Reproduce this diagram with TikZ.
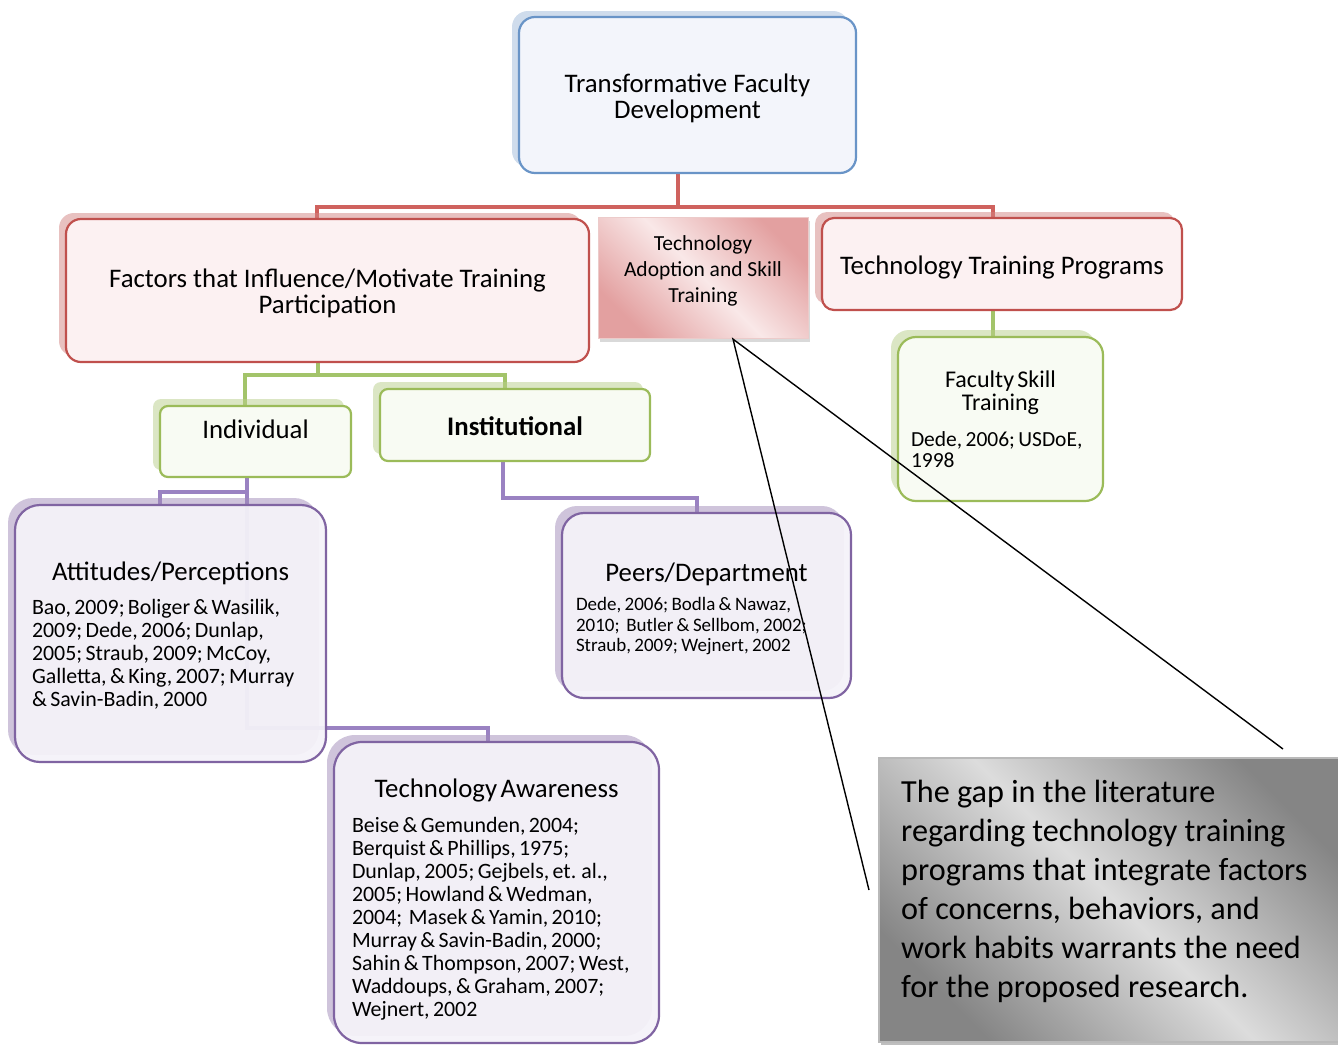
\documentclass[tikz,border=0pt]{standalone}
\usepackage{fontspec}
\setmainfont{Carlito}
\usetikzlibrary{shadows,calc}
\definecolor{bl}{HTML}{4F81BD}
\definecolor{blfill}{HTML}{F3F5FB}
\definecolor{rd}{HTML}{C0504D}
\definecolor{rdline}{HTML}{CF625E}
\definecolor{rdfill}{HTML}{FCF1F2}
\definecolor{gr}{HTML}{9BBB59}
\definecolor{grline}{HTML}{A3C46A}
\definecolor{grfill}{HTML}{F8FBF3}
\definecolor{pu}{HTML}{8064A2}
\definecolor{puline}{HTML}{9A82C2}
\definecolor{pufill}{HTML}{F5F3F9}
\definecolor{tadark}{HTML}{E3A0A0}
\definecolor{talight}{HTML}{F9E8E8}
\definecolor{gydark}{HTML}{858585}
\definecolor{gylight}{HTML}{DCDCDC}
\newcommand\ttlf{\fontsize{26.8}{26}\selectfont}
\newcommand\reff{\fontsize{21.9}{23}\selectfont}
\newcommand\smreff{\fontsize{19}{20.5}\selectfont}
\begin{document}
\begin{tikzpicture}[x=1pt,y=-1pt,
  base/.style={rectangle, line width=2.2pt, inner sep=0pt},
  bluebox/.style={base, draw=bl!85, fill=blfill,
    general shadow={shadow xshift=-7pt, shadow yshift=6pt, fill=bl!60, opacity=.45}},
  redbox/.style={base, draw=rd, fill=rdfill,
    general shadow={shadow xshift=-7pt, shadow yshift=6pt, fill=rd!70, opacity=.5}},
  greenbox/.style={base, draw=gr, fill=grfill,
    general shadow={shadow xshift=-7pt, shadow yshift=7pt, fill=gr!70, opacity=.5}},
  purplebox/.style={base, draw=pu, fill=pufill, fill opacity=.93,
    general shadow={shadow xshift=-7pt, shadow yshift=7pt, fill=pu!75, opacity=.5}},
  conn/.style={line width=4pt},
  rc/.style={conn, draw=rdline},
  gc/.style={conn, draw=grline},
  pc/.style={conn, draw=puline},
  callout/.style={draw=black, line width=1.4pt},
  boxlabel/.style={align=center, font=\ttlf},
  reftext/.style={inner sep=0pt}
]
\useasboundingbox (0,0) rectangle (1338,1047);
\fill[white] (0,0) rectangle (1338,1047);

% ---------- box positions (named) ----------
\path
  (687.5,95)    coordinate (ptfd)
  (327.5,290.5) coordinate (pfac)
  (703,277.5)   coordinate (pta)
  (1002,264)    coordinate (pttp)
  (1000.5,419)  coordinate (pfsk)
  (255.5,441.5) coordinate (pind)
  (515,425)     coordinate (pins)
  (170.5,633.5) coordinate (patt)
  (706.5,605.5) coordinate (ppeer)
  (496.5,892.5) coordinate (paw);

% invisible helper nodes for connectors
\node[base, minimum width=337pt, minimum height=156pt] (tfd) at (ptfd) {};
\node[base, minimum width=523pt, minimum height=143pt] (fac) at (pfac) {};
\node[base, minimum width=210pt, minimum height=121pt] (ta) at (pta) {};
\node[base, minimum width=360pt, minimum height=92pt] (ttp) at (pttp) {};
\node[base, minimum width=205pt, minimum height=164pt] (fsk) at (pfsk) {};
\node[base, minimum width=191pt, minimum height=71pt] (ind) at (pind) {};
\node[base, minimum width=270pt, minimum height=72pt] (ins) at (pins) {};
\node[base, minimum width=311pt, minimum height=257pt] (att) at (patt) {};
\node[base, minimum width=289pt, minimum height=185pt] (peer) at (ppeer) {};
\node[base, minimum width=325pt, minimum height=301pt] (aw) at (paw) {};

% ---------- connectors ----------
\draw[rc] ([xshift=-9.5pt]tfd.south) -- ++(0,33) -| ([xshift=-10.5pt]fac.north);
\draw[rc] ([xshift=-9.5pt]tfd.south) -- ++(0,33) -| ([xshift=-9pt]ttp.north);
\draw[gc] ([xshift=-9.5pt]fac.south) -- ++(0,12) -| ([xshift=-10.5pt]ind.north);
\draw[gc] ([xshift=-9.5pt]fac.south) -- ++(0,12) -| ([xshift=-10pt]ins.north);
\draw[gc] ([xshift=-9pt]ttp.south) -- ([xshift=-9pt]ttp.south |- fsk.north);
\draw[pc] ([xshift=-8.5pt]ind.south) -- ++(0,14) -| ([xshift=-10.5pt]att.north);
\draw[pc] ([xshift=-8.5pt]ind.south) -- ++(0,250) -| ([xshift=-8.5pt]aw.north);
\draw[pc] ([xshift=-12pt]ins.south) -- ++(0,36) -| ([xshift=-9.5pt]peer.north);

% ---------- boxes ----------
\node[bluebox, rounded corners=16pt, minimum width=337pt, minimum height=156pt,
  label={[boxlabel, yshift=-3pt]center:Transformative Faculty\\Development}]
  (tfdbox) at (ptfd) {};

\node[redbox, rounded corners=15pt, minimum width=523pt, minimum height=143pt,
  label={[boxlabel, yshift=-3pt]center:Factors that Influence/Motivate Training\\Participation}]
  (facbox) at (pfac) {};

\node[base, line width=0.8pt, draw=rd!30, shade, top color=tadark, bottom color=tadark, middle color=talight,
  shading angle=-45, minimum width=210pt, minimum height=121pt,
  drop shadow={shadow xshift=2pt, shadow yshift=-4pt, fill=black, opacity=.15},
  label={[align=center, font=\fontsize{21.5}{26}\selectfont, yshift=6.5pt]center:Technology\\Adoption and Skill\\Training}]
  (tabox) at (pta) {};

\node[redbox, rounded corners=12pt, minimum width=360pt, minimum height=92pt,
  label={[boxlabel, yshift=-3.5pt]center:Technology Training Programs}]
  (ttpbox) at (pttp) {};

\node[greenbox, rounded corners=18pt, minimum width=205pt, minimum height=164pt, text width=179pt]
  (fskbox) at (pfsk) {{\centering\fontsize{24}{23}\selectfont Faculty Skill\\Training\par}\vspace{15pt}%
  {\raggedright\fontsize{21.5}{21}\selectfont Dede, 2006; USDoE,\\1998\par}};

\node[greenbox, rounded corners=8pt, minimum width=191pt, minimum height=71pt,
  label={[font=\ttlf, yshift=12pt]center:Individual}] (indbox) at (pind) {};

\node[greenbox, rounded corners=8pt, minimum width=270pt, minimum height=72pt,
  label={[font=\ttlf\bfseries, yshift=-1.5pt]center:Institutional}]
  (insbox) at (pins) {};

\node[purplebox, rounded corners=25pt, minimum width=311pt, minimum height=257pt] (attbox) at (patt) {};
\node[reftext, text width=277pt] (atttext) at ([yshift=-2.5pt]attbox.center)
  {{\centering\ttlf Attitudes/Perceptions\par}\vspace{11pt}%
  {\raggedright\reff Bao, 2009; Boliger \& Wasilik,\\2009; Dede, 2006; Dunlap,\\2005; Straub, 2009; McCoy,\\Galletta, \& King, 2007; Murray\\\& Savin-Badin, 2000\par}};

\node[purplebox, rounded corners=22pt, minimum width=289pt, minimum height=185pt] (peerbox) at (ppeer) {};
\node[reftext, text width=261pt] (peertext) at ([yshift=-3.5pt]peerbox.center)
  {{\centering\ttlf Peers/Department\par}\vspace{9pt}%
  {\raggedright\smreff Dede, 2006; Bodla \& Nawaz,\\2010;\ \ Butler \& Sellbom, 2002;\\Straub, 2009; Wejnert, 2002\par}};

\node[purplebox, rounded corners=28pt, minimum width=325pt, minimum height=301pt] (awbox) at (paw) {};
\node[reftext, text width=289pt] (awtext) at ([yshift=-7.5pt]awbox.center)
  {{\centering\ttlf Technology Awareness\par}\vspace{12pt}%
  {\raggedright\reff Beise \& Gemunden, 2004;\\Berquist \& Phillips, 1975;\\Dunlap, 2005; Gejbels, et. al.,\\2005; Howland \& Wedman,\\2004;\ \ Masek \& Yamin, 2010;\\Murray \& Savin-Badin, 2000;\\Sahin \& Thompson, 2007; West,\\Waddoups, \& Graham, 2007;\\Wejnert, 2002\par}};

% ---------- gap box ----------
\node[base, line width=1.5pt, draw=gray!55, shade, top color=gydark, bottom color=gydark, middle color=gylight,
  shading angle=-45, minimum width=471pt, minimum height=284pt,
  drop shadow={shadow xshift=2pt, shadow yshift=-3pt, fill=black, opacity=.25}]
  (gap) at (1114.5,900) {};
\node[anchor=north west, inner sep=0pt, align=left, font=\fontsize{32.2}{39}\selectfont]
  (gaptext) at (901,780) {The gap in the literature\\regarding technology training\\programs that integrate factors\\of concerns, behaviors, and\\work habits warrants the need\\for the proposed research.};

% ---------- callout pointer ----------
\coordinate (c1) at (869,890);
\coordinate (c2) at (1283,749);
\draw[callout] (c1) -- ([xshift=30pt]ta.south) -- (c2);
\end{tikzpicture}
\end{document}
